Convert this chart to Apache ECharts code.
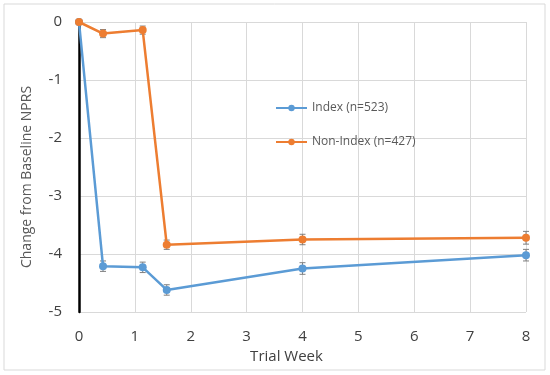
<!DOCTYPE html>
<html><head><meta charset="utf-8">
<script src="https://cdn.jsdelivr.net/npm/echarts@6/dist/echarts.min.js"></script>
<style>html,body{margin:0;padding:0;background:#fff}#c{width:550px;height:375px}</style>
</head><body><div id="c"></div>
<script>
const weeks = [0, 0.43, 1.14, 1.57, 4, 8];
const indexVals = [0, -4.21, -4.23, -4.62, -4.25, -4.02];
const indexErr = [0, 0.09, 0.09, 0.09, 0.1, 0.1];
const nonIndexVals = [0, -0.2, -0.14, -3.84, -3.75, -3.72];
const nonIndexErr = [0, 0.07, 0.07, 0.08, 0.09, 0.11];
const xTicks = [0,1,2,3,4,5,6,7,8];
const yTicks = [0,-1,-2,-3,-4,-5];
const seriesNames = ['Index (n=523)', 'Non-Index (n=427)'];
const colors = ['#5b9bd5', '#ed7d31'];

const font = 'Open Sans, Liberation Sans, sans-serif';
function pts(v){ return weeks.map((w,i)=>[w, v[i]]); }
function errData(v,e){ return weeks.map((w,i)=>[w, v[i]-e[i], v[i]+e[i]]); }
function errSeries(v,e,color){
  return {
    type:'custom', silent:true, z:1,
    data: errData(v,e),
    renderItem(params, api){
      const x = api.value(0);
      const lo = api.coord([x, api.value(1)]);
      const hi = api.coord([x, api.value(2)]);
      const hw = 3;
      const st = {stroke:'#7f7f7f', lineWidth:1};
      return {type:'group', children:[
        {type:'line', shape:{x1:lo[0],y1:lo[1],x2:hi[0],y2:hi[1]}, style:st},
        {type:'line', shape:{x1:lo[0]-hw,y1:lo[1],x2:lo[0]+hw,y2:lo[1]}, style:st},
        {type:'line', shape:{x1:hi[0]-hw,y1:hi[1],x2:hi[0]+hw,y2:hi[1]}, style:st}
      ]};
    }
  };
}
const chart = echarts.init(document.getElementById('c'));
chart.setOption({
  animation:false,
  textStyle:{fontFamily:font},
  graphic:[{type:'rect', shape:{x:4,y:4,width:541,height:366}, style:{fill:'none', stroke:'#d9d9d9', lineWidth:1}, silent:true}],
  grid:{left:79, right:24, top:22, bottom:63},
  legend:{
    orient:'vertical', left:270, top:97, itemGap:22, itemWidth:31, itemHeight:8,
    data: seriesNames,
    textStyle:{color:'#595959', fontSize:12, fontFamily:font}
  },
  xAxis:{
    type:'value', min:0, max:8, interval:1,
    name:'Trial Week', nameLocation:'middle', nameGap:36,
    nameTextStyle:{color:'#404040', fontSize:15, padding:[0,32,0,0]},
    axisLine:{show:false}, axisTick:{show:false},
    axisLabel:{color:'#404040', fontSize:15, margin:17},
    splitLine:{lineStyle:{color:'#d9d9d9'}}
  },
  yAxis:{
    type:'value', min:-5, max:0, interval:1,
    name:'Change from Baseline NPRS', nameLocation:'middle', nameGap:45,
    nameTextStyle:{color:'#595959', fontSize:14, padding:[0,20,0,0]},
    axisLine:{show:true, onZero:false, lineStyle:{color:'#000', width:2.5}},
    axisTick:{show:false},
    axisLabel:{color:'#404040', fontSize:15, margin:17},
    splitLine:{lineStyle:{color:'#d9d9d9'}}
  },
  series:[
    errSeries(indexVals, indexErr, colors[0]),
    errSeries(nonIndexVals, nonIndexErr, colors[1]),
    {name:seriesNames[0], type:'line', data:pts(indexVals), symbol:'circle', symbolSize:8, z:3,
     lineStyle:{color:colors[0], width:2.5}, itemStyle:{color:colors[0]}},
    {name:seriesNames[1], type:'line', data:pts(nonIndexVals), symbol:'circle', symbolSize:8, z:4,
     lineStyle:{color:colors[1], width:2.5}, itemStyle:{color:colors[1]}}
  ]
});
</script></body></html>
